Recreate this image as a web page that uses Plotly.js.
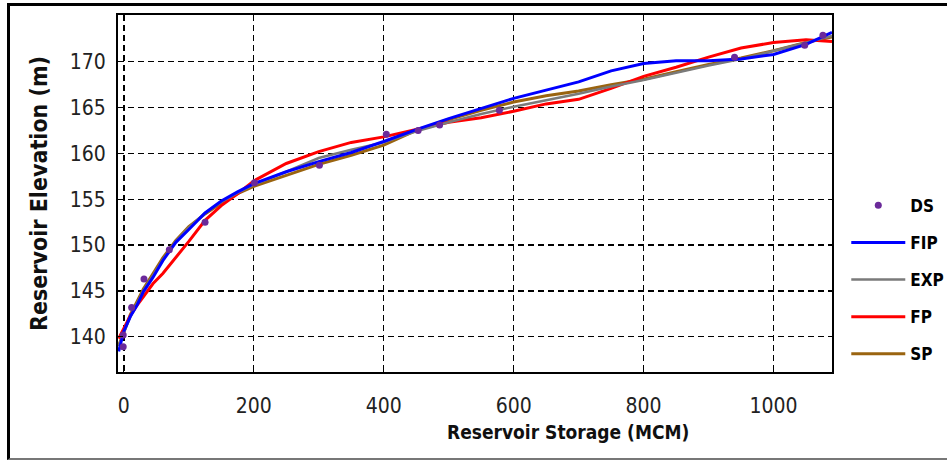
<!DOCTYPE html>
<html><head><meta charset="utf-8">
<script src="https://cdn.plot.ly/plotly-3.0.1.min.js"></script>
<style>
html,body{margin:0;padding:0;background:#fff;}
#wrap{position:relative;width:947px;height:460px;overflow:hidden;}
#chart{width:947px;height:460px;}
#frame{position:absolute;left:7px;top:3px;width:1000px;height:452px;border-left:3px solid #000;border-top:3px solid #000;border-bottom:2px solid #777;pointer-events:none;}
</style></head><body>
<div id="wrap"><div id="chart"></div><div id="frame"></div></div>
<script>
// Reservoir storage (MCM) sample points used for fitted curves
const storage = [-8, 0, 10, 20, 30, 45, 60, 80, 100, 125, 150, 175, 200, 250, 300, 350, 400, 450, 500, 550, 600, 650, 700, 750, 800, 850, 900, 950, 1000, 1050, 1090];
// Fitted curves: reservoir elevation (m)
const fipElevation = [138.4, 140.6, 142.2, 143.4, 144.9, 146.5, 148.3, 150.3, 151.7, 153.5, 154.8, 155.8, 156.7, 158.0, 159.1, 160.1, 161.3, 162.6, 163.8, 164.9, 166.0, 166.9, 167.8, 169.0, 169.8, 170.1, 170.1, 170.3, 170.8, 171.9, 173.2];
const expElevation = [139.0, 140.5, 142.2, 143.6, 145.0, 146.7, 148.4, 150.4, 151.9, 153.5, 154.7, 155.7, 156.6, 158.0, 159.5, 160.4, 161.2, 162.4, 163.4, 164.3, 165.1, 165.8, 166.5, 167.3, 168.0, 168.8, 169.6, 170.3, 171.2, 172.1, 172.8];
const fpElevation = [139.8, 140.9, 142.3, 143.4, 144.4, 145.8, 146.9, 148.6, 150.4, 152.7, 154.3, 155.6, 157.0, 158.9, 160.2, 161.2, 161.8, 162.6, 163.4, 163.9, 164.6, 165.4, 165.9, 167.1, 168.4, 169.4, 170.5, 171.5, 172.1, 172.4, 172.2];
const spElevation = [139.0, 140.6, 142.4, 143.8, 145.2, 146.9, 148.6, 150.5, 152.0, 153.4, 154.6, 155.6, 156.4, 157.6, 158.8, 159.8, 160.9, 162.5, 163.7, 164.7, 165.6, 166.3, 166.8, 167.5, 168.1, 168.9, 169.7, 170.4, 171.2, 172.1, 172.7];
// Observed data (DS)
const dsStorage = [-1, -1, 12, 31, 70, 125, 201, 301, 404, 453, 486, 578, 940, 1048, 1076];
const dsElevation = [138.9, 140.2, 143.2, 146.3, 149.5, 152.5, 156.8, 158.7, 162.1, 162.5, 163.1, 164.7, 170.5, 171.8, 172.9];
// Axis ticks
const xTicks = [0, 200, 400, 600, 800, 1000];
const yTicks = [140, 145, 150, 155, 160, 165, 170];

const narrow = 'DejaVu Sans Condensed, Liberation Sans Narrow, Liberation Sans, sans-serif';

const traces = [
  {x: storage, y: spElevation, name: 'SP', legendgroup: 'sp', mode: 'lines', line: {color: '#9a6410', width: 3}, legendrank: 5},
  {x: storage, y: fpElevation, name: 'FP', legendgroup: 'fp', mode: 'lines', line: {color: '#ff0000', width: 3}, legendrank: 4},
  {x: storage, y: expElevation, name: 'EXP', legendgroup: 'exp', mode: 'lines', line: {color: '#7a7a7a', width: 2.5}, legendrank: 3},
  {x: storage, y: fipElevation, name: 'FIP', legendgroup: 'fip', mode: 'lines', line: {color: '#0000ff', width: 3}, legendrank: 2},
  {x: dsStorage, y: dsElevation, name: 'DS', legendgroup: 'ds', mode: 'markers', marker: {color: '#6b2a9a', size: 7}, legendrank: 1}
];

const gridCommon = {
  showgrid: true, gridcolor: '#000', gridwidth: 1.3, griddash: '6px,4px',
  zeroline: false, showline: true, linecolor: '#000', linewidth: 2, mirror: true,
  ticks: 'inside', ticklen: 5, tickcolor: '#000',
  tickfont: {family: narrow, size: 21, color: '#222'}
};

const layout = {
  width: 947, height: 460,
  margin: {l: 118, r: 115, t: 15, b: 88, autoexpand: false},
  paper_bgcolor: '#fff', plot_bgcolor: '#fff',
  showlegend: true,
  legend: {x: 1.02, y: 0.516, xanchor: 'left', yanchor: 'top', bgcolor: 'rgba(0,0,0,0)',
           font: {family: narrow, size: 17, weight: 'bold', color: '#000'}, itemwidth: 54,
           traceorder: 'grouped', tracegroupgap: 12},
  xaxis: Object.assign({}, gridCommon, {range: [-9, 1090], tickvals: xTicks, ticklabelstandoff: 14}),
  yaxis: Object.assign({}, gridCommon, {range: [136.15, 175.1], tickvals: yTicks, ticklabelstandoff: 6,
    title: {text: 'Reservoir Elevation (m)', standoff: 16, font: {family: narrow, size: 23, weight: 'bold', color: '#101010'}}}),
  annotations: [
    {text: 'Reservoir Storage (MCM)', xref: 'paper', yref: 'paper', x: 0.63, y: -0.168, xanchor: 'center', yanchor: 'middle',
     showarrow: false, font: {family: narrow, size: 19, weight: 'bold', color: '#101010'}}
  ]
};

Plotly.newPlot('chart', traces, layout, {staticPlot: true, displayModeBar: false});
</script>
</body></html>
